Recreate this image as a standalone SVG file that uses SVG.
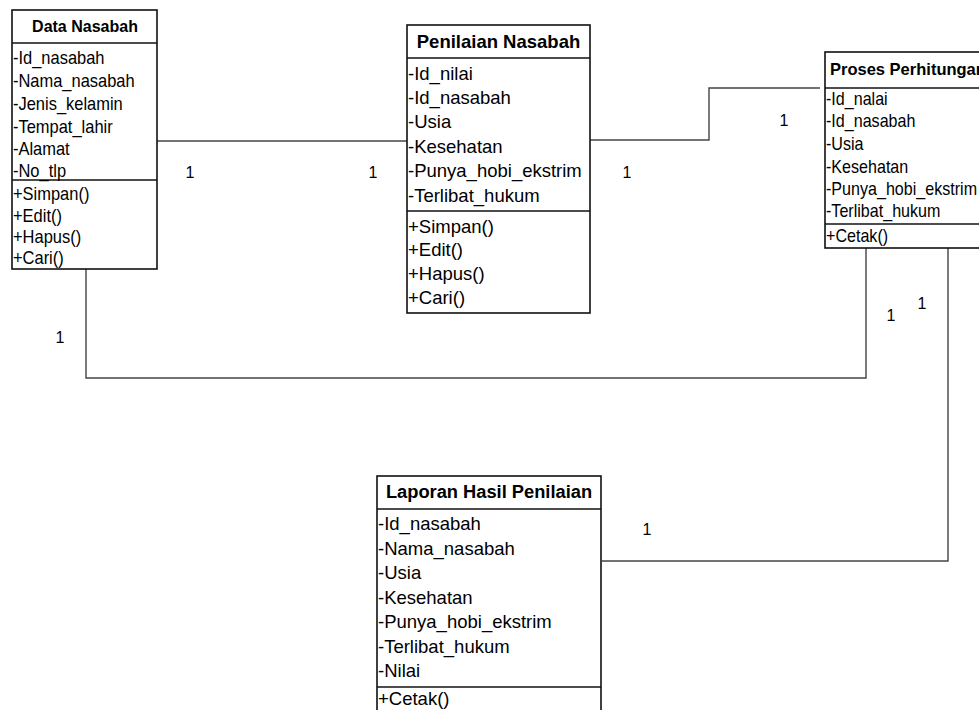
<svg xmlns="http://www.w3.org/2000/svg" width="979" height="710" viewBox="0 0 979 710">
  <style>
    .box { fill: #ffffff; stroke: #111111; stroke-width: 1.6; }
    .sep { stroke: #111111; stroke-width: 1.6; }
    .title { font-family: "Liberation Sans", Arial, sans-serif; font-weight: bold; fill: #000; }
    .item { font-family: "Liberation Sans", Arial, sans-serif; fill: #000; }
    .conn { fill: none; stroke: #444444; stroke-width: 1.4; }
    .mult { font-family: "Liberation Sans", Arial, sans-serif; font-size: 16px; fill: #000; }
  </style>
  <rect width="979" height="710" fill="#ffffff"/>

  <!-- associations -->
  <g id="connectors">
    <polyline class="conn" points="157,141 407,141"/>
    <polyline class="conn" points="590,140 709,140 709,88 820,88"/>
    <polyline class="conn" points="86,269 86,378 866,378 866,248"/>
    <polyline class="conn" points="948,248 948,561 602,561"/>
    <text class="mult" x="190" y="178" text-anchor="middle">1</text>
    <text class="mult" x="373" y="178" text-anchor="middle">1</text>
    <text class="mult" x="627" y="178" text-anchor="middle">1</text>
    <text class="mult" x="784" y="126" text-anchor="middle">1</text>
    <text class="mult" x="60" y="343" text-anchor="middle">1</text>
    <text class="mult" x="891" y="321" text-anchor="middle">1</text>
    <text class="mult" x="922" y="309" text-anchor="middle">1</text>
    <text class="mult" x="647" y="535" text-anchor="middle">1</text>
  </g>

  <!-- class: Data Nasabah -->
  <g id="data-nasabah">
    <rect class="box" x="12" y="10" width="145" height="259"/>
    <line class="sep" x1="12" y1="43" x2="157" y2="43"/>
    <line class="sep" x1="12" y1="180" x2="157" y2="180"/>
    <text class="title" x="85" y="32" font-size="16" text-anchor="middle">Data Nasabah</text>
    <g transform="translate(13,0) scale(0.89,1)" class="item" font-size="18.5">
      <text x="0" y="64">-Id_nasabah</text>
      <text x="0" y="87">-Nama_nasabah</text>
      <text x="0" y="110">-Jenis_kelamin</text>
      <text x="0" y="133">-Tempat_lahir</text>
      <text x="0" y="155">-Alamat</text>
      <text x="0" y="177">-No_tlp</text>
      <text x="0" y="200">+Simpan()</text>
      <text x="0" y="222">+Edit()</text>
      <text x="0" y="243">+Hapus()</text>
      <text x="0" y="264">+Cari()</text>
    </g>
  </g>

  <!-- class: Penilaian Nasabah -->
  <g id="penilaian-nasabah">
    <rect class="box" x="407" y="25" width="183" height="288"/>
    <line class="sep" x1="407" y1="58" x2="590" y2="58"/>
    <line class="sep" x1="407" y1="211" x2="590" y2="211"/>
    <text class="title" x="498.5" y="48" font-size="18.5" text-anchor="middle">Penilaian Nasabah</text>
    <g class="item" font-size="18.5">
      <text x="408" y="80">-Id_nilai</text>
      <text x="408" y="104">-Id_nasabah</text>
      <text x="408" y="128">-Usia</text>
      <text x="408" y="153">-Kesehatan</text>
      <text x="408" y="177">-Punya_hobi_ekstrim</text>
      <text x="408" y="202">-Terlibat_hukum</text>
      <text x="408" y="233">+Simpan()</text>
      <text x="408" y="256">+Edit()</text>
      <text x="408" y="280">+Hapus()</text>
      <text x="408" y="304">+Cari()</text>
    </g>
  </g>

  <!-- class: Proses Perhitungan (runs past the right edge of the page) -->
  <g id="proses-perhitungan">
    <rect class="box" x="825" y="52" width="170" height="196"/>
    <line class="sep" x1="825" y1="88" x2="995" y2="88"/>
    <line class="sep" x1="825" y1="224" x2="995" y2="224"/>
    <text class="title" x="830" y="75" font-size="16.5">Proses Perhitungan</text>
    <g transform="translate(826,0) scale(0.92,1)" class="item" font-size="17.5">
      <text x="0" y="105">-Id_nalai</text>
      <text x="0" y="127">-Id_nasabah</text>
      <text x="0" y="150">-Usia</text>
      <text x="0" y="173">-Kesehatan</text>
      <text x="0" y="195">-Punya_hobi_ekstrim</text>
      <text x="0" y="217">-Terlibat_hukum</text>
      <text x="0" y="242">+Cetak()</text>
    </g>
  </g>

  <!-- class: Laporan Hasil Penilaian (runs past the bottom edge of the page) -->
  <g id="laporan-hasil-penilaian">
    <rect class="box" x="377" y="476" width="224" height="250"/>
    <line class="sep" x1="377" y1="509" x2="601" y2="509"/>
    <line class="sep" x1="377" y1="687" x2="601" y2="687"/>
    <text class="title" x="489" y="498" font-size="18.3" text-anchor="middle">Laporan Hasil Penilaian</text>
    <g class="item" font-size="18.5">
      <text x="378" y="530">-Id_nasabah</text>
      <text x="378" y="555">-Nama_nasabah</text>
      <text x="378" y="579">-Usia</text>
      <text x="378" y="604">-Kesehatan</text>
      <text x="378" y="628">-Punya_hobi_ekstrim</text>
      <text x="378" y="653">-Terlibat_hukum</text>
      <text x="378" y="677">-Nilai</text>
      <text x="378" y="705">+Cetak()</text>
    </g>
  </g>
</svg>
